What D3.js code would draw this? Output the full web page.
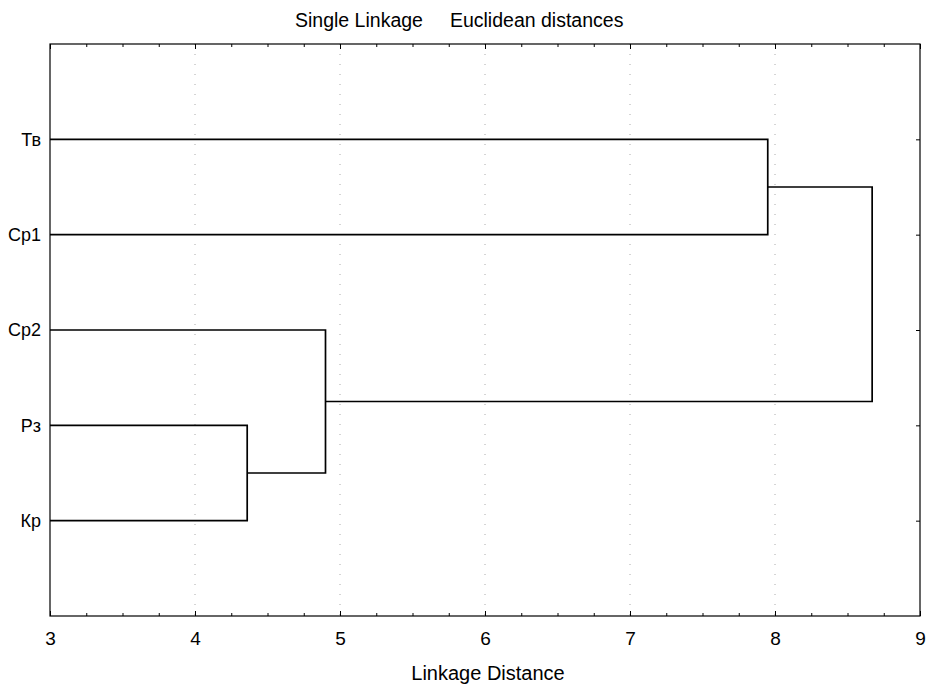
<!DOCTYPE html>
<html><head><meta charset="utf-8">
<script src="https://cdn.jsdelivr.net/npm/d3@7"></script>
<style>
body{margin:0;background:#fff;}
text{font-family:"Liberation Sans",Arial,sans-serif;fill:#000;}
</style></head>
<body><svg id="c" width="929" height="685"></svg>
<script>
const titleParts = ["Single Linkage", "Euclidean distances"];
const xTitle = "Linkage Distance";
const leaves = ["Тв", "Ср1", "Ср2", "Рз", "Кр"];
// merges: [childA, childB, distance]; indices >= leaves.length are earlier clusters
const merges = [
  [3, 4, 4.36],
  [2, 5, 4.90],
  [0, 1, 7.95],
  [7, 6, 8.67]
];
const xTicks = [3, 4, 5, 6, 7, 8, 9];
const xDomain = [3, 9];

const FONT = "Liberation Sans, Arial, sans-serif";
const svg = d3.select("#c");
const m = {l: 50, r: 9, t: 44, b: 69};
const W = 929, H = 685;
const x = d3.scaleLinear().domain(xDomain).range([m.l, W - m.r]);
const y = d3.scalePoint().domain(leaves).range([m.t, H - m.b]).padding(1);

// grid
svg.append("g").selectAll("line").data(xTicks.slice(1, -1)).join("line")
  .attr("x1", d => x(d)).attr("x2", d => x(d))
  .attr("y1", m.t).attr("y2", H - m.b)
  .attr("stroke", "#aaa").attr("stroke-width", 1).attr("stroke-dasharray", "1,9");

// axes
const minor = d3.range(xDomain[0], xDomain[1] + 0.001, 0.25);
const bottom = svg.append("g").attr("transform", `translate(0,${H - m.b})`)
  .call(d3.axisBottom(x).tickValues(xTicks).tickFormat(d3.format("d")).tickSize(-5).tickPadding(16));
bottom.select(".domain").remove();
bottom.selectAll("text").style("font-size", "19px").style("font-family", FONT);
svg.append("g").attr("transform", `translate(0,${H - m.b})`)
  .call(d3.axisBottom(x).tickValues(minor).tickFormat("").tickSize(-3))
  .select(".domain").remove();
svg.append("g").attr("transform", `translate(0,${m.t})`)
  .call(d3.axisTop(x).tickValues(xTicks).tickFormat("").tickSize(-5))
  .select(".domain").remove();
svg.append("g").attr("transform", `translate(0,${m.t})`)
  .call(d3.axisTop(x).tickValues(minor).tickFormat("").tickSize(-3))
  .select(".domain").remove();
const left = svg.append("g").attr("transform", `translate(${m.l},0)`)
  .call(d3.axisLeft(y).tickSize(0).tickPadding(9));
left.select(".domain").remove();
left.selectAll("text").style("font-size", "18px").style("font-family", FONT);
svg.append("g").attr("transform", `translate(${W - m.r},0)`)
  .call(d3.axisRight(y).tickSize(-4).tickFormat(""))
  .select(".domain").remove();
svg.selectAll(".tick line").attr("stroke", "#000");

// frame
svg.append("rect").attr("x", m.l).attr("y", m.t)
  .attr("width", W - m.r - m.l).attr("height", H - m.b - m.t)
  .attr("fill", "none").attr("stroke", "#000").attr("stroke-width", 1.2);

// dendrogram
const nodes = leaves.map(l => ({yy: y(l), d: xDomain[0]}));
const g = svg.append("g").attr("fill", "none").attr("stroke", "#000").attr("stroke-width", 1.7);
merges.forEach(([a, b, dist]) => {
  const A = nodes[a], B = nodes[b];
  g.append("path").attr("d",
    `M${x(A.d)},${A.yy}H${x(dist)}V${B.yy}H${x(B.d)}`);
  nodes.push({yy: (A.yy + B.yy) / 2, d: dist});
});

// titles
const t = svg.append("text").attr("x", 295).attr("y", 27)
  .style("font-size", "19.5px").style("font-family", FONT);
t.append("tspan").text(titleParts[0]);
t.append("tspan").attr("dx", 27).text(titleParts[1]);
svg.append("text").attr("x", (m.l + W - m.r) / 2 + 3).attr("y", 680)
  .attr("text-anchor", "middle").style("font-size", "20px").style("font-family", FONT).text(xTitle);
</script></body></html>
